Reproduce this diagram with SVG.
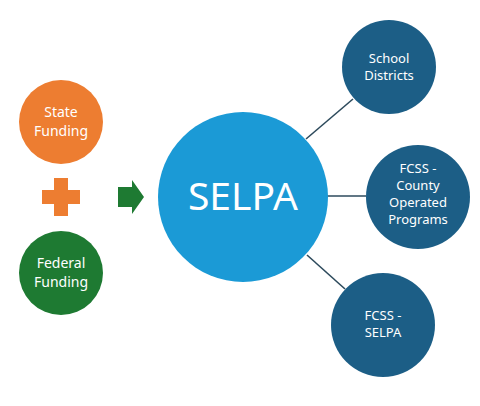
<svg xmlns="http://www.w3.org/2000/svg" width="480" height="406" viewBox="0 0 480 406">
<style>
.lbl{font-family:"Noto Sans","Open Sans",sans-serif;fill:#fff;text-anchor:middle;font-size:13px}
.lg{font-size:14px}
.big{font-family:"Noto Sans","Open Sans",sans-serif;fill:#fff;text-anchor:middle;font-size:39px}
.dark{fill:#1C5E86}
.conn{stroke:#2D4A5C;stroke-width:1.6;fill:none}
</style>
<rect width="480" height="406" fill="#fff"/>
<g id="connectors">
<line class="conn" x1="306" y1="139" x2="353" y2="99"/>
<line class="conn" x1="302" y1="196" x2="366" y2="196"/>
<line class="conn" x1="307" y1="255" x2="345" y2="289"/>
</g>
<g id="state-funding">
<circle cx="61" cy="122" r="42" fill="#ED7D31"/>
<text class="lbl lg" x="61" y="117">State</text>
<text class="lbl lg" x="61" y="136">Funding</text>
</g>
<g id="plus">
<path d="M54 178h14v12h12v14h-12v12h-14v-12h-12v-14h12z" fill="#ED7D31"/>
</g>
<g id="federal-funding">
<circle cx="61" cy="273" r="42" fill="#1E7A32"/>
<text class="lbl lg" x="61" y="268">Federal</text>
<text class="lbl lg" x="61" y="287">Funding</text>
</g>
<g id="arrow">
<path d="M118 187h14v-7l12 17-12 17v-7h-14z" fill="#1E7A32"/>
</g>
<g id="selpa">
<circle cx="243" cy="197" r="85" fill="#1B9AD6"/>
<text class="big" x="243" y="210">SELPA</text>
</g>
<g id="school-districts">
<circle class="dark" cx="389" cy="67" r="47"/>
<text class="lbl" x="389" y="63">School</text>
<text class="lbl" x="389" y="80">Districts</text>
</g>
<g id="fcss-county">
<circle class="dark" cx="418" cy="197" r="52"/>
<text class="lbl" x="418" y="173">FCSS -</text>
<text class="lbl" x="418" y="190">County</text>
<text class="lbl" x="418" y="207">Operated</text>
<text class="lbl" x="418" y="224">Programs</text>
</g>
<g id="fcss-selpa">
<circle class="dark" cx="383" cy="325" r="52"/>
<text class="lbl" x="383" y="320">FCSS -</text>
<text class="lbl" x="383" y="337">SELPA</text>
</g>
</svg>
